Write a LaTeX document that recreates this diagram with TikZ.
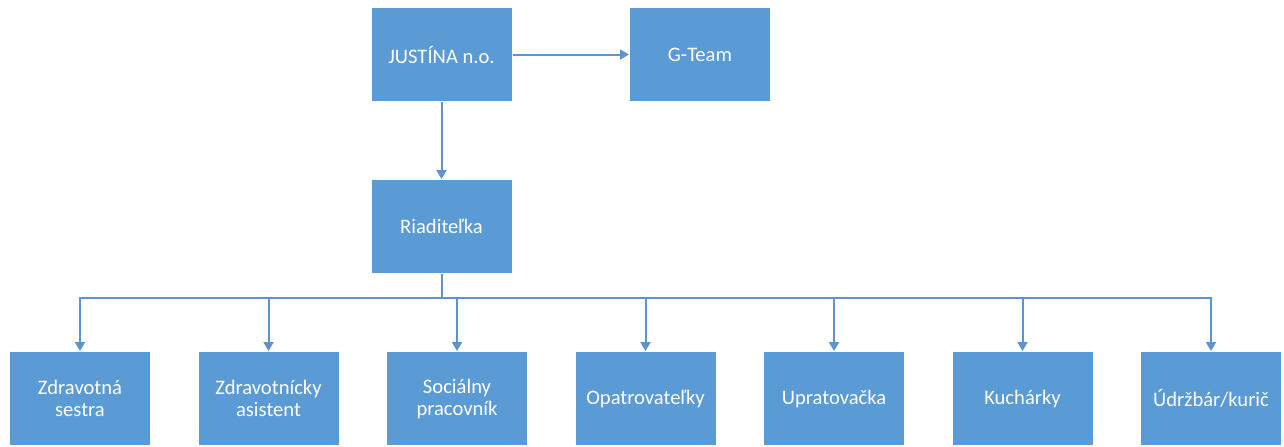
\documentclass[tikz,border=0pt]{standalone}
\usepackage{fontspec}
\setmainfont{Carlito}
\usepackage{tikz}
\usetikzlibrary{arrows.meta,positioning}
\definecolor{officeblue}{HTML}{5B9BD5}
\definecolor{linkblue}{HTML}{5B95CF}

\begin{document}
\begin{tikzpicture}[>={Triangle[width=5pt,length=4.5pt]}, line width=1pt, node distance=94.25pt, on grid,
    box/.style={rectangle, fill=officeblue, text=white, minimum width=70pt, minimum height=46.5pt, inner sep=0pt, align=center, font=\fontsize{10.3}{11}\selectfont},
    link/.style={draw=linkblue, ->}]
   \useasboundingbox (0,0) rectangle (642pt,-223pt);
   \node[box] (justina) at (220.75pt,-27.25pt) {JUSTÍNA n.o.};
   \node[box] (gteam) [right=129.25pt of justina] {G-Team};
   \node[box] (riaditelka) [below=86pt of justina] {Riaditeľka};
   \node[box] (sestra) [below left=86pt and 180.75pt of riaditelka] {Zdravotná\\sestra};
   \node[box] (asistent) [right=of sestra] {Zdravotnícky\\asistent};
   \node[box] (pracovnik) [right=of asistent] {Sociálny\\pracovník};
   \node[box] (opatrovatelky) [right=of pracovnik] {Opatrovateľky};
   \node[box] (upratovacka) [right=of opatrovatelky] {Upratovačka};
   \node[box] (kucharky) [right=of upratovacka] {Kuchárky};
   \node[box] (udrzbar) [right=of kucharky] {Údržbár/kurič};
   \path (justina) edge [link] (gteam)
         (justina) edge [link] (riaditelka);
   \draw[linkblue] (riaditelka.south) -- ++(0,-12pt) coordinate (bus);
   \foreach \n in {sestra,asistent,pracovnik,opatrovatelky,upratovacka,kucharky,udrzbar}
      \draw[link] (bus) -| (\n);
\end{tikzpicture}
\end{document}
